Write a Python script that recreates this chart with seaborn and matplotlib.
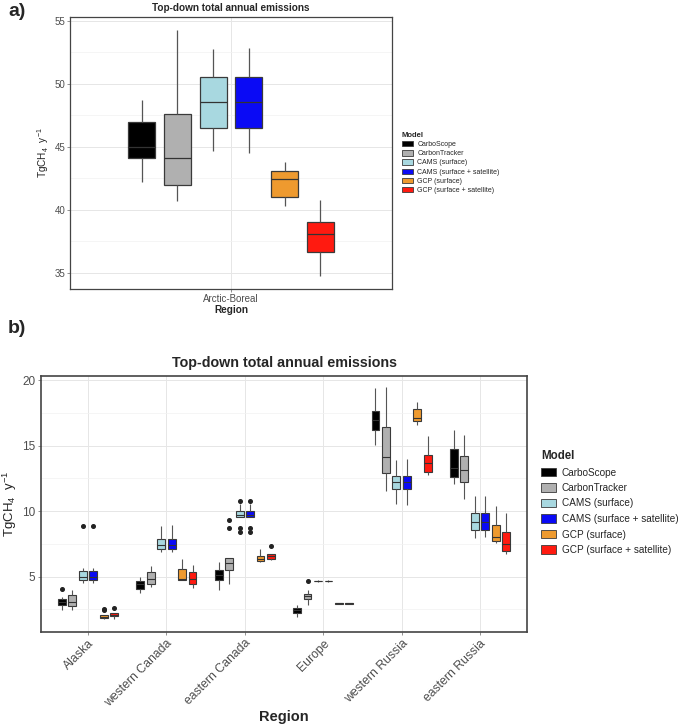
import numpy as np
import pandas as pd
import matplotlib
matplotlib.use("Agg")
import matplotlib.pyplot as plt
from matplotlib.patches import Patch
from matplotlib.ticker import MultipleLocator
import seaborn as sns

# categories
MODELS = ["CarboScope", "CarbonTracker", "CAMS (surface)",
          "CAMS (surface + satellite)", "GCP (surface)", "GCP (surface + satellite)"]
COLORS = ["#000000", "#B0B0B0", "#A8D8E0", "#0A0AF5", "#EE9A2F", "#FF1A10"]
REGIONS = ["Alaska", "western Canada", "eastern Canada", "Europe",
           "western Russia", "eastern Russia"]

# panel a) Arctic-Boreal totals, one value per model (whisker low, q1, median, q3, whisker high)
AB_LOW = [42.16, 40.69, 44.66, 44.53, 40.27, 34.75]
AB_Q1 = [44.14, 41.98, 46.48, 46.50, 41.00, 36.60]
AB_MED = [45.00, 44.10, 48.58, 48.58, 42.43, 38.06]
AB_Q3 = [46.96, 47.56, 50.53, 50.53, 43.08, 39.00]
AB_HIGH = [48.74, 54.27, 52.76, 52.85, 43.82, 40.79]

# panel b) per region (whisker low, q1, median, q3, whisker high), order of REGIONS
CARBOSCOPE = [(2.46, 2.84, 3.07, 3.27, 3.47), (3.73, 4.08, 4.42, 4.69, 4.98),
              (3.99, 4.75, 5.12, 5.55, 6.12), (1.94, 2.25, 2.42, 2.59, 2.84),
              (15.08, 16.23, 16.99, 17.68, 19.42), (12.07, 12.65, 13.30, 14.75, 16.23)]
CARBONTRACKER = [(2.45, 2.76, 3.09, 3.63, 3.99), (4.19, 4.42, 4.83, 5.39, 5.85),
                 (4.42, 5.52, 6.08, 6.44, 6.70), (2.84, 3.29, 3.50, 3.69, 3.95),
                 (11.51, 12.91, 14.14, 16.43, 19.49), (10.93, 12.23, 13.17, 14.24, 15.85)]
CAMS_SURF = [(4.55, 4.73, 4.98, 5.44, 5.69), (6.92, 7.10, 7.45, 7.91, 8.91),
             (9.55, 9.55, 9.71, 9.99, 10.55), (4.62, 4.65, 4.68, 4.71, 4.74),
             (10.54, 11.71, 12.20, 12.71, 13.93), (7.99, 8.58, 9.17, 9.85, 11.18)]
CAMS_SAT = [(4.55, 4.73, 5.00, 5.44, 5.69), (6.92, 7.10, 7.45, 7.91, 8.96),
            (9.55, 9.55, 9.71, 9.99, 10.55), (4.62, 4.65, 4.68, 4.71, 4.74),
            (10.49, 11.71, 12.20, 12.71, 13.98), (8.00, 8.58, 9.17, 9.85, 11.18)]
GCP_SURF = [(1.74, 1.84, 1.90, 2.06, 2.06), (4.75, 4.75, 4.83, 5.57, 6.36),
            (6.15, 6.23, 6.36, 6.59, 7.10), (2.93, 2.95, 2.97, 2.99, 3.01),
            (16.61, 16.86, 17.12, 17.81, 18.32), (7.56, 7.76, 8.07, 8.96, 10.41)]
GCP_SAT = [(1.80, 2.02, 2.10, 2.20, 2.20), (4.16, 4.44, 4.81, 5.39, 5.90),
           (6.30, 6.36, 6.56, 6.72, 6.72), (2.93, 2.95, 2.97, 2.99, 3.01),
           (12.78, 12.96, 13.65, 14.26, 15.77), (6.74, 6.97, 7.51, 8.40, 9.85)]

# outlying years (model, region, value)
OUTLIERS = [
    ("CarboScope", "Alaska", 4.09),
    ("CAMS (surface)", "Alaska", 8.90),
    ("CAMS (surface + satellite)", "Alaska", 8.90),
    ("GCP (surface)", "Alaska", 2.42),
    ("GCP (surface)", "Alaska", 2.52),
    ("GCP (surface + satellite)", "Alaska", 2.63),
    ("CarbonTracker", "eastern Canada", 8.70),
    ("CarbonTracker", "eastern Canada", 9.34),
    ("CAMS (surface)", "eastern Canada", 8.40),
    ("CAMS (surface)", "eastern Canada", 8.75),
    ("CAMS (surface)", "eastern Canada", 10.80),
    ("CAMS (surface + satellite)", "eastern Canada", 8.40),
    ("CAMS (surface + satellite)", "eastern Canada", 8.75),
    ("CAMS (surface + satellite)", "eastern Canada", 10.80),
    ("GCP (surface + satellite)", "eastern Canada", 7.35),
    ("CarbonTracker", "Europe", 4.65),
]


def sample(stats, extra):
    # 9 values whose quartiles / whiskers reproduce the read box
    lo, q1, med, q3, hi = stats
    low = sorted(v for v in extra if v < q1)
    high = sorted(v for v in extra if v > q3)
    low = low + [lo] * (2 - len(low))
    high = [hi] * (2 - len(high)) + high
    return low + [q1, q1, med, q3, q3] + high


rows = []
for m, summ in zip(MODELS, [CARBOSCOPE, CARBONTRACKER, CAMS_SURF, CAMS_SAT, GCP_SURF, GCP_SAT]):
    for r, st in zip(REGIONS, summ):
        ext = [v for (mm, rr, v) in OUTLIERS if mm == m and rr == r]
        for v in sample(st, ext):
            rows.append((r, m, v))
df_b = pd.DataFrame(rows, columns=["Region", "Model", "value"])

rows = []
for i, m in enumerate(MODELS):
    st = (AB_LOW[i], AB_Q1[i], AB_MED[i], AB_Q3[i], AB_HIGH[i])
    for v in sample(st, []):
        rows.append(("Arctic-Boreal", m, v))
df_a = pd.DataFrame(rows, columns=["Region", "Model", "value"])

sns.set_theme(style="white")
plt.rcParams["font.family"] = ["Liberation Sans", "DejaVu Sans"]
plt.rcParams["mathtext.default"] = "regular"

fig = plt.figure(figsize=(6.83, 7.24), dpi=100)
ax1 = fig.add_axes([70 / 683, 1 - 289 / 724, 322 / 683, 272 / 724])
ax2 = fig.add_axes([41 / 683, 1 - 631.7 / 724, 486 / 683, 256 / 724])

box_kw = dict(hue_order=MODELS, palette=COLORS, width=0.8, gap=0.25,
              linecolor="#3a3a3a", showcaps=False, legend=False, saturation=1,
              whiskerprops=dict(color="#555555"),
              medianprops=dict(color="#333333"),
              flierprops=dict(marker="o", markersize=2.6, markerfacecolor="#222222",
                              markeredgecolor="#222222"))

sns.boxplot(data=df_a, x="Region", y="value", hue="Model", ax=ax1, linewidth=0.9, **box_kw)
sns.boxplot(data=df_b, x="Region", y="value", hue="Model", order=REGIONS, ax=ax2,
            linewidth=0.8, **box_kw)

ax1.set_xlim(-0.6, 0.6)
ax1.set_ylim(33.7, 55.3)
ax1.yaxis.set_major_locator(MultipleLocator(5))
ax1.yaxis.set_minor_locator(MultipleLocator(2.5))
ax2.set_xlim(-0.6, 5.6)
ax2.set_ylim(0.8, 20.35)
ax2.yaxis.set_major_locator(MultipleLocator(5))
ax2.yaxis.set_minor_locator(MultipleLocator(2.5))

for ax, lw in [(ax1, 0.9), (ax2, 1.2)]:
    ax.set_axisbelow(True)
    ax.grid(True, which="major", color="#E6E6E6", linewidth=0.7)
    ax.grid(True, which="minor", axis="y", color="#F2F2F2", linewidth=0.5)
    for s in ax.spines.values():
        s.set_visible(True)
        s.set_color("#444444")
        s.set_linewidth(lw)
    ax.tick_params(which="major", length=2, width=0.5, color="#666666",
                   labelcolor="#4D4D4D", bottom=True, left=True)
    ax.tick_params(which="minor", length=0)

ax1.tick_params(labelsize=7, pad=1.5)
ax1.set_title("Top-down total annual emissions", fontsize=7.2, fontweight="bold", pad=4)
ax1.set_xlabel("Region", fontsize=7.2, fontweight="bold", labelpad=0.5)
ax1.set_ylabel("TgCH$_4$  y$^{-1}$", fontsize=7.2, color="#222222")
ax1.yaxis.set_label_coords(-0.058, 0.5)

ax2.tick_params(axis="y", labelsize=8.5, pad=2)
ax2.tick_params(axis="x", labelsize=8.8, pad=2)
for lab in ax2.get_xticklabels():
    lab.set_rotation(45)
    lab.set_ha("right")
    lab.set_rotation_mode("anchor")
ax2.set_title("Top-down total annual emissions", fontsize=10.3, fontweight="bold", pad=6)
ax2.set_xlabel("Region", fontsize=10.5, fontweight="bold", labelpad=1)
ax2.set_ylabel("TgCH$_4$  y$^{-1}$", fontsize=9.5, color="#222222")
ax2.yaxis.set_label_coords(-0.045, 0.5)

handles = [Patch(facecolor=c, edgecolor="#3a3a3a", linewidth=0.6) for c in COLORS]
leg1 = ax1.legend(handles, MODELS, title="Model", loc="upper left",
                  bbox_to_anchor=(402 / 683, 1 - 132 / 724), bbox_transform=fig.transFigure,
                  frameon=False, fontsize=5, title_fontsize=5.5, alignment="left",
                  handlelength=1.6, handleheight=0.8, handletextpad=0.6,
                  labelspacing=0.3, borderpad=0, borderaxespad=0)
leg1.get_title().set_fontweight("bold")

leg2 = ax2.legend(handles, MODELS, title="Model", loc="upper left",
                  bbox_to_anchor=(541 / 683, 1 - 450 / 724), bbox_transform=fig.transFigure,
                  frameon=False, fontsize=7.2, title_fontsize=8.3, alignment="left",
                  handlelength=1.5, handleheight=0.9, handletextpad=0.6,
                  labelspacing=0.55, borderpad=0, borderaxespad=0)
leg2.get_title().set_fontweight("bold")

fig.text(8 / 683, 1 - 3 / 724, "a)", fontsize=14, fontweight="bold", va="top", ha="left")
fig.text(8 / 683, 1 - 320 / 724, "b)", fontsize=14, fontweight="bold", va="top", ha="left")

fig.savefig("out.png", dpi=100)
